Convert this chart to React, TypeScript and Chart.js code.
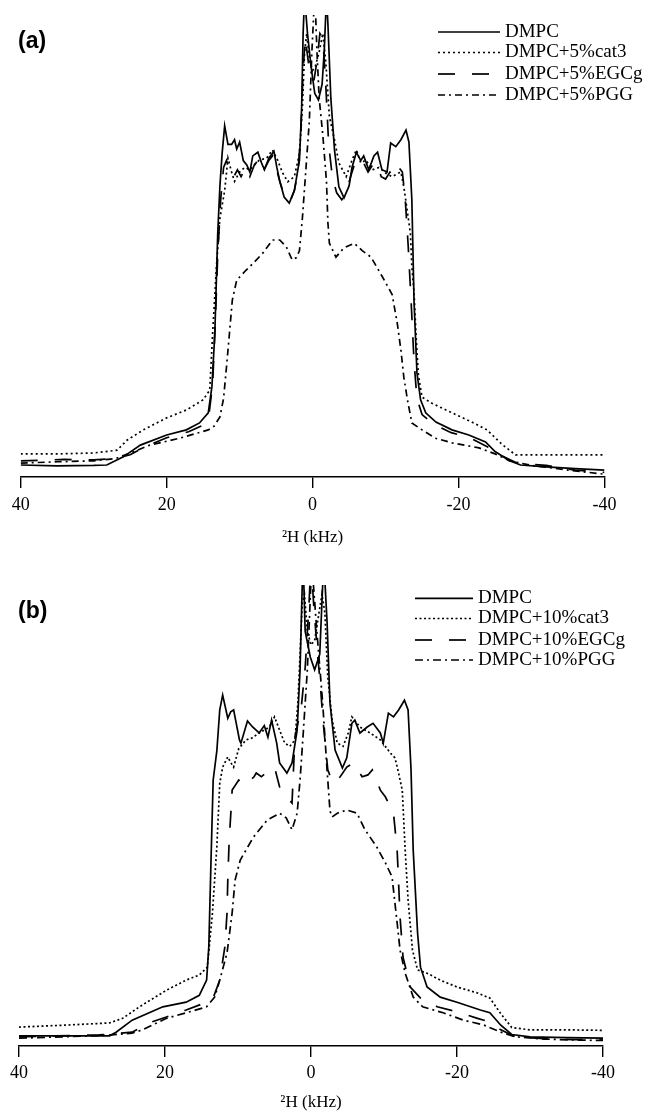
import React, { useEffect, useRef } from "react";
import { Chart, registerables } from "chart.js";

Chart.register(...registerables);

type Pt = [number, number];

// ---------- axis ----------
const X_MIN = -40;
const X_MAX = 40;
const X_STEP = 20;
const X_TITLE = "²H (kHz)";

// ---------- legends / series names ----------
const LABELS_A = ["DMPC", "DMPC+5%cat3", "DMPC+5%EGCg", "DMPC+5%PGG"];
const LABELS_B = ["DMPC", "DMPC+10%cat3", "DMPC+10%EGCg", "DMPC+10%PGG"];

// ---------- panel (a) spectra: [kHz, intensity] ----------
const A_DMPC: Pt[] = [
  [40, 2.6], [35, 2.4], [30, 2.5], [28.2, 2.6], [26, 4.3], [23.6, 6.9], [20, 9.1], [17.3, 10.2], [15.5, 11.7],
  [14.3, 13.9], [13.8, 19.5], [13.4, 31], [13.0, 52.8], [12.7, 63], [12.4, 70], [12.05, 76], [11.6, 72], [11.1, 72],
  [10.7, 73], [10.4, 71], [10.0, 72.5], [9.5, 68.5], [9.0, 67.5], [8.6, 66], [8.2, 69.5], [7.5, 70.3], [7.0, 68],
  [6.6, 66.5], [6.0, 69], [5.3, 70.5], [4.9, 67], [4.5, 64], [3.9, 60.6], [3.2, 59.3], [2.5, 62], [1.8, 68.6],
  [1.5, 80], [1.3, 96], [1.1, 104], [0.9, 100], [0.7, 96], [0.2, 88.7], [-0.3, 83], [-0.8, 81.6], [-1.3, 85],
  [-1.6, 92.4], [-1.9, 104], [-2.1, 98], [-2.5, 82], [-3.0, 70.8], [-3.6, 62.8], [-4.3, 60.4], [-5.0, 63], [-5.4, 67],
  [-6.0, 70.3], [-6.6, 68.5], [-7.0, 69.5], [-7.7, 66.5], [-8.4, 69.5], [-8.9, 70.3], [-9.5, 66.5], [-10.2, 66],
  [-10.7, 72.3], [-11.4, 71.5], [-12.1, 73], [-12.8, 75.1], [-13.2, 72.5], [-13.6, 60], [-13.9, 38], [-14.3, 22.5],
  [-14.8, 16.7], [-15.5, 13.9], [-16.9, 11.9], [-19.1, 10.2], [-21.4, 9.1], [-23.7, 7.6], [-25, 5.5], [-27, 3.5],
  [-28.5, 2.6], [-32, 2.2], [-36, 1.8], [-40, 1.5],
];
const A_CAT3: Pt[] = [
  [40, 5.0], [35, 5.0], [30, 5.2], [26.8, 5.8], [25.4, 8], [23.2, 10.2], [20, 12.8], [17.3, 14.5], [15, 16.7],
  [14.1, 18.8], [13.7, 31], [13.2, 45], [12.7, 56], [12.05, 62], [11.6, 69], [11.1, 66], [10.7, 64], [10.0, 66],
  [9.3, 67], [8.6, 66.5], [8.0, 67.5], [7.3, 68.6], [6.3, 69], [5.5, 70.8], [4.8, 68.6], [4.1, 65.8], [3.4, 63.9],
  [2.5, 65], [1.8, 70], [1.4, 80], [1.1, 92], [0.8, 96], [0.4, 90], [0, 88], [-0.4, 89], [-0.9, 92], [-1.4, 96],
  [-1.8, 90], [-2.3, 78], [-3.0, 73], [-3.6, 68], [-4.6, 65], [-5.4, 68.6], [-6.0, 70.8], [-6.6, 68], [-7.3, 68.6],
  [-8.2, 66.5], [-9.1, 67], [-10.0, 65.8], [-10.9, 65], [-11.8, 65.8], [-12.1, 66], [-12.5, 62.8], [-12.9, 58.4],
  [-13.4, 52.8], [-13.6, 45.5], [-13.9, 40], [-14.2, 30], [-14.5, 22], [-15.0, 17.3], [-16.3, 16], [-19.1, 13.9],
  [-21.8, 11.9], [-23.9, 10.2], [-26, 7], [-27.8, 4.8], [-32, 4.8], [-36, 4.8], [-40, 4.8],
];
const A_EGCG: Pt[] = [
  [40, 3.5], [34, 3.8], [30, 3.7], [27, 4.0], [25, 4.8], [23, 6.5], [20, 8.5], [17, 9.8], [15, 11.2], [14.2, 13.5],
  [13.7, 20], [13.3, 35], [13.0, 48], [12.6, 60], [12.2, 67], [11.8, 68.5], [11.3, 66], [10.8, 65], [10.3, 66.5],
  [9.8, 65], [9.2, 67], [8.6, 65], [8.0, 67.5], [7.5, 68.5], [7.0, 66], [6.5, 67], [6.0, 68.5], [5.5, 69.5], [5.0, 67],
  [4.5, 64], [4.0, 61.5], [3.5, 60], [3.0, 60], [2.5, 62], [2.0, 66], [1.6, 75], [1.3, 88], [1.0, 95], [0.6, 90],
  [0.2, 86], [-0.2, 86], [-0.6, 90], [-1.0, 96], [-1.4, 95], [-1.8, 85], [-2.2, 72], [-2.7, 65], [-3.3, 61.5],
  [-4.0, 60], [-4.6, 61.5], [-5.2, 65], [-5.8, 68], [-6.3, 67], [-7.0, 68], [-7.6, 66], [-8.2, 67.5], [-8.8, 68],
  [-9.4, 65], [-10.0, 64.5], [-10.6, 66], [-11.2, 65], [-11.8, 67], [-12.3, 66], [-12.7, 60], [-13.1, 50],
  [-13.5, 38], [-13.9, 25], [-14.3, 17], [-15.0, 13.5], [-16.5, 11.5], [-19, 9.6], [-21.5, 8.5], [-24, 6.5],
  [-26, 4.5], [-28, 3], [-32, 2.5], [-36, 1.5], [-40, 1.0],
];
const A_PGG: Pt[] = [
  [40, 3.0], [35, 3.3], [30, 3.5], [27, 4], [24.5, 5.5], [22.3, 6.9], [18.2, 8.4], [14.3, 10.2], [13.5, 11],
  [12.7, 13], [12.2, 17], [11.8, 23.8], [11.4, 31], [11.0, 38.3], [10.4, 42.6], [9.1, 44.8], [8.0, 46.5],
  [6.8, 48.5], [5.5, 51.3], [4.5, 51.3], [3.6, 49.8], [2.8, 47], [2.2, 47.5], [1.8, 49], [1.4, 56], [0.9, 67],
  [0.45, 77], [0.1, 92], [-0.3, 105], [-0.6, 92], [-0.9, 82], [-1.4, 74], [-1.9, 64], [-2.1, 55], [-2.3, 50.6],
  [-3.2, 47.6], [-4.3, 49.6], [-5.7, 50.6], [-6.8, 49], [-8.0, 47.6], [-9.5, 43.5], [-10.9, 39.5], [-11.6, 33.3],
  [-12.1, 27.5], [-12.5, 21.6], [-13.0, 16.7], [-13.6, 11.7], [-15.0, 10.2], [-16.8, 8.4], [-19.1, 7.4],
  [-22.8, 6.3], [-25, 5], [-27, 3.5], [-30, 2.5], [-35, 1.5], [-40, 0.6],
];

// ---------- panel (b) spectra: [kHz, intensity] ----------
const B_DMPC: Pt[] = [
  [40, 2.2], [34, 2.2], [27.6, 2.2], [26.7, 3], [24.5, 5.6], [20.3, 8.5], [17.1, 9.5], [15.3, 11], [14.3, 14.3],
  [14.0, 21.5], [13.7, 40], [13.4, 57.7], [12.9, 64], [12.5, 72.9], [12.1, 76.1], [11.4, 71.1], [11.0, 72.5],
  [10.6, 72.9], [9.8, 66.4], [9.6, 65.7], [8.7, 70.5], [8.0, 69.2], [7.1, 67.9], [6.4, 69.5], [5.9, 67], [5.4, 70.7],
  [4.7, 65.7], [4.3, 61.4], [3.3, 59.2], [2.6, 61.4], [1.9, 68.5], [1.5, 81.6], [1.2, 100], [1.05, 104], [0.8, 90],
  [0.1, 84.4], [-0.5, 81.6], [-1.2, 85], [-1.6, 100], [-1.8, 104], [-2.2, 92], [-2.6, 74.4], [-3.3, 64.2],
  [-4.3, 60.3], [-4.9, 62.5], [-5.6, 70], [-6.0, 70.7], [-6.7, 67.9], [-7.7, 69.2], [-8.5, 70], [-9.5, 67.9],
  [-9.9, 65.7], [-10.6, 72.2], [-11.3, 71.4], [-12.0, 72.9], [-12.8, 75], [-13.3, 72.9], [-13.7, 60], [-14.0, 42.5],
  [-14.6, 24.5], [-15.0, 17.1], [-15.9, 12.8], [-17.7, 10.6], [-20.0, 9.5], [-23.2, 7.8], [-24.5, 7.2], [-26, 4.5],
  [-27.5, 2.5], [-30, 2], [-35, 1.8], [-40, 1.7],
];
const B_CAT3: Pt[] = [
  [40, 4.1], [34, 4.5], [27.6, 5], [25.8, 6], [23.5, 8.5], [19.8, 12.1], [17.1, 14.3], [15.3, 15.4], [14.2, 17.1],
  [13.5, 28.9], [12.9, 43.2], [12.5, 57], [12.1, 60.5], [11.4, 62.7], [11.0, 61.5], [10.6, 60.5], [9.9, 64.5],
  [8.9, 66.4], [8.1, 66.8], [7.1, 67.9], [5.7, 69.2], [5.0, 71.4], [4.3, 68.5], [3.6, 65.7], [2.9, 65], [2.2, 66.4],
  [1.8, 74.4], [1.5, 85], [1.2, 96], [0.9, 98], [0.5, 90], [0, 87], [-0.5, 88], [-1.0, 93], [-1.5, 98], [-1.9, 94],
  [-2.3, 80], [-2.9, 70.7], [-3.6, 65.7], [-4.4, 65], [-5.1, 67.9], [-5.6, 71.4], [-6.7, 69.2], [-8.1, 67.9],
  [-9.5, 66.4], [-10.9, 63.5], [-11.5, 62.5], [-11.9, 59.9], [-12.5, 55.5], [-12.9, 42.5], [-13.3, 31.7],
  [-13.9, 20.8], [-14.6, 16.5], [-15.9, 15.8], [-17.7, 14.3], [-20.0, 12.8], [-22.8, 11.5], [-24.5, 10.4],
  [-26, 7], [-27.5, 4], [-30, 3.5], [-35, 3.5], [-40, 3.4],
];
const B_EGCG: Pt[] = [
  [40, 2], [35, 2.2], [29, 2.4], [24.5, 3], [22.2, 5], [19.8, 6.3], [17.1, 7.8], [13.5, 10], [12.5, 14.3],
  [11.8, 21.5], [11.5, 28.9], [11.4, 36], [11.2, 45], [11.0, 50], [10.8, 55.5], [9.9, 57.7], [9.1, 56.5],
  [7.8, 58.4], [7.5, 59.2], [6.8, 58.4], [5.7, 59.9], [5.0, 60.5], [4.3, 56.2], [3.3, 54], [2.6, 52.7], [2.2, 67],
  [1.8, 70], [1.3, 74], [0.8, 82], [0.3, 95], [0, 105], [-0.4, 95], [-0.9, 85], [-1.3, 78], [-1.6, 71.4],
  [-2.3, 59.9], [-3.0, 57], [-4.0, 58.4], [-4.9, 60.5], [-5.8, 61.4], [-7.0, 58.4], [-7.8, 58.8], [-8.4, 59.9],
  [-9.5, 55.5], [-10.2, 54], [-11.3, 50.5], [-11.8, 42.5], [-12.0, 35.4], [-12.2, 28], [-12.6, 19.3], [-13.6, 12.8],
  [-15.0, 10.4], [-17.3, 8.5], [-20.0, 7.4], [-22.8, 6], [-24.5, 5.2], [-26, 3.5], [-28, 2], [-32, 1.6], [-36, 1.4],
  [-40, 1.3],
];
const B_PGG: Pt[] = [
  [40, 1.7], [34, 2], [28, 2.3], [24.5, 2.8], [23.1, 3.5], [19.8, 6], [17.1, 7.2], [14.3, 8.5], [13.2, 10.6],
  [12.5, 14.3], [11.5, 20.2], [10.8, 28.9], [10.4, 36], [9.7, 40.3], [7.9, 45.3], [6.0, 49], [4.3, 50.5],
  [3.4, 49.5], [2.6, 46.9], [1.9, 50.5], [1.5, 57.7], [1.1, 67], [0.5, 81.6], [-0.1, 105], [-0.8, 90], [-1.6, 74.4],
  [-2.2, 59.9], [-2.6, 51], [-2.9, 49.7], [-3.6, 50.5], [-4.9, 51.2], [-6.3, 50.5], [-7.4, 46.9], [-9.0, 43.2],
  [-10.2, 39.7], [-11.1, 36.7], [-11.5, 31], [-11.8, 26.7], [-12.2, 20.8], [-12.9, 15.8], [-14.0, 10.6],
  [-15.3, 8.5], [-18.1, 7.2], [-20.9, 5.6], [-23.6, 4.6], [-26, 3], [-28, 2], [-32, 1.5], [-36, 1.3], [-40, 1.2],
];

// ---------- line styles (solid, dotted, dashed, dash-dot) ----------
const DASHES_A: number[][] = [[], [2, 3], [17, 17], [7, 4, 2, 4]];
const DASHES_B: number[][] = [[], [2, 2.5], [17, 17], [8, 4, 2, 4]];

const SERIF = "'Liberation Serif', 'Times New Roman', Times, serif";
const SANS = "'Liberation Sans', Arial, Helvetica, sans-serif";

interface PanelLayout {
  tag: string;
  tagX: number;
  tagY: number;
  padTop: number;
  padLeft: number;
  padRight: number;
  axisH: number;
  tickPad: number;
  titlePadBottom: number;
  legX0: number;
  legX1: number;
  legTX: number;
  legRows: number[];
}

function overlayPlugin(L: PanelLayout) {
  return {
    id: "panelOverlay",
    afterDraw(chart: any) {
      const ctx: CanvasRenderingContext2D = chart.ctx;
      ctx.save();
      chart.data.datasets.forEach((ds: any, i: number) => {
        const y = L.legRows[i];
        ctx.beginPath();
        ctx.setLineDash(ds.borderDash || []);
        ctx.lineWidth = ds.borderWidth;
        ctx.strokeStyle = "#000";
        ctx.moveTo(L.legX0, y);
        ctx.lineTo(L.legX1, y);
        ctx.stroke();
        ctx.setLineDash([]);
        ctx.fillStyle = "#000";
        ctx.font = `19px ${SERIF}`;
        ctx.textBaseline = "middle";
        ctx.textAlign = "left";
        ctx.fillText(ds.label, L.legTX, y);
      });
      ctx.font = `bold 23px ${SANS}`;
      ctx.fillStyle = "#000";
      ctx.textBaseline = "middle";
      ctx.fillText(L.tag, L.tagX, L.tagY);
      ctx.restore();
    },
  };
}

function buildConfig(series: Pt[][], labels: string[], dashes: number[][], L: PanelLayout): any {
  return {
    type: "line",
    data: {
      datasets: series.map((s, i) => ({
        label: labels[i],
        data: s.map(([x, y]) => ({ x, y })),
        borderColor: "#000",
        borderWidth: 1.7,
        borderDash: dashes[i],
        pointRadius: 0,
        tension: 0,
        fill: false,
      })),
    },
    options: {
      animation: false,
      responsive: false,
      events: [],
      layout: { padding: { top: L.padTop, left: L.padLeft, right: L.padRight, bottom: 0 } },
      plugins: { legend: { display: false }, tooltip: { enabled: false } },
      scales: {
        x: {
          type: "linear",
          min: X_MIN,
          max: X_MAX,
          reverse: true,
          ticks: {
            stepSize: X_STEP,
            color: "#000",
            padding: L.tickPad,
            maxRotation: 0,
            font: { family: SERIF, size: 18 },
          },
          grid: { drawOnChartArea: false, drawTicks: true, tickLength: 11, color: "#000", lineWidth: 1.4 },
          border: { display: true, color: "#000", width: 1.4 },
          title: {
            display: true,
            text: X_TITLE,
            color: "#000",
            font: { family: SERIF, size: 17 },
            padding: { top: 2, bottom: L.titlePadBottom },
          },
          afterFit: (scale: any) => {
            scale.height = L.axisH;
          },
        },
        y: { display: false, min: 0, max: 100 },
      },
    },
    plugins: [overlayPlugin(L)],
  };
}

const LAYOUT_A: PanelLayout = {
  tag: "(a)", tagX: 18, tagY: 42,
  padTop: 15, padLeft: 20.7, padRight: 653 - 604.5, axisH: 81, tickPad: 6.5, titlePadBottom: 9.8,
  legX0: 438, legX1: 500, legTX: 505, legRows: [32, 52.5, 74, 95],
};
const LAYOUT_B: PanelLayout = {
  tag: "(b)", tagX: 18, tagY: 54,
  padTop: 27, padLeft: 19, padRight: 653 - 603, axisH: 70, tickPad: 5.5, titlePadBottom: 2.8,
  legX0: 415, legX1: 473, legTX: 478, legRows: [40.3, 60.5, 82, 102],
};

export default function App() {
  const refA = useRef<HTMLCanvasElement | null>(null);
  const refB = useRef<HTMLCanvasElement | null>(null);

  useEffect(() => {
    const ca = new Chart(refA.current as HTMLCanvasElement, buildConfig([A_DMPC, A_CAT3, A_EGCG, A_PGG], LABELS_A, DASHES_A, LAYOUT_A));
    const cb = new Chart(refB.current as HTMLCanvasElement, buildConfig([B_DMPC, B_CAT3, B_EGCG, B_PGG], LABELS_B, DASHES_B, LAYOUT_B));
    return () => {
      ca.destroy();
      cb.destroy();
    };
  }, []);

  return (
    <div style={{ position: "absolute", left: 0, top: 0, width: 653, height: 1116, background: "#fff" }}>
      <canvas ref={refA} width={653} height={558} style={{ display: "block", width: 653, height: 558 }} />
      <canvas ref={refB} width={653} height={558} style={{ display: "block", width: 653, height: 558 }} />
    </div>
  );
}
